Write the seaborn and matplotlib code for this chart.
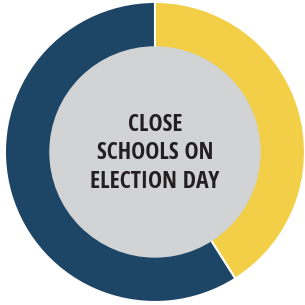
import matplotlib
matplotlib.use("Agg")
import matplotlib.pyplot as plt
import seaborn as sns

# donut split (yellow share starts at 12 o'clock, clockwise)
answers = ["Yes", "No"]
shares = [41, 59]
colours = ["#F2CF46", "#1D4566"]
centre_text = "CLOSE\nSCHOOLS ON\nELECTION DAY"

sns.set_theme(style="white")
plt.rcParams["font.family"] = ["Open Sans Condensed", "DejaVu Sans"]

fig = plt.figure(figsize=(3.05, 3.05), dpi=100)
fig.patch.set_facecolor("white")
ax = fig.add_axes([0, 0, 1, 1])

ax.pie(shares, labels=None, colors=sns.color_palette(colours), startangle=90,
       counterclock=False, radius=1.0,
       wedgeprops=dict(width=0.31, edgecolor="white", linewidth=1.5))
ax.add_patch(plt.Circle((0, 0), 0.70, color="#D1D3D4", zorder=3))
ax.text(0, -0.01, centre_text, ha="center", va="center", fontsize=17,
        fontweight="bold", color="#231F20", linespacing=1.25, zorder=4)

ax.set_xlim(-1.033, 1.0)
ax.set_ylim(-1.02, 1.013)
ax.set_aspect("equal")
ax.axis("off")

fig.savefig("out.png", dpi=100, facecolor="white")
